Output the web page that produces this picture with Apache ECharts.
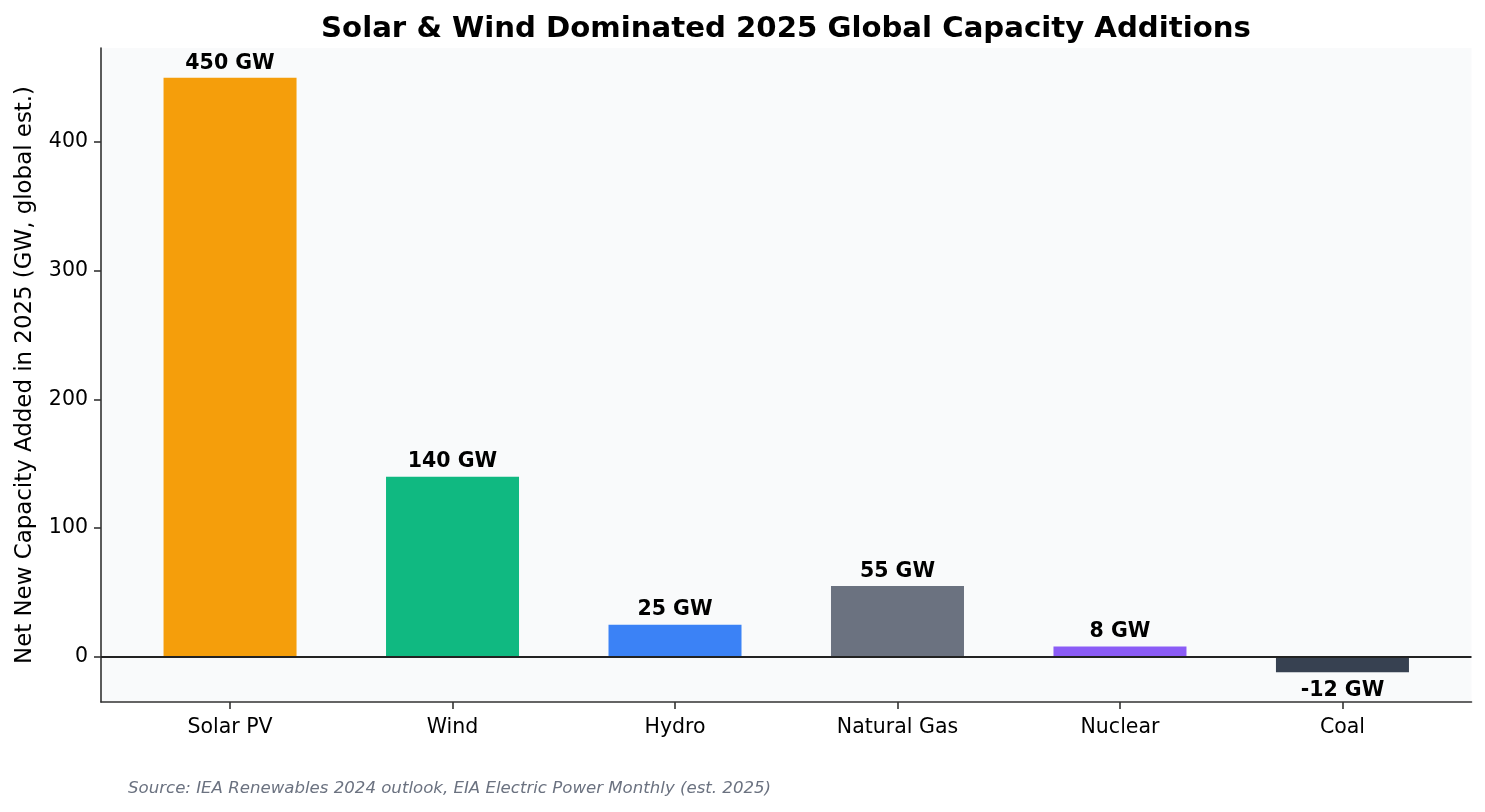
<!DOCTYPE html>
<html>
<head>
<meta charset="utf-8">
<script src="https://cdn.jsdelivr.net/npm/echarts@6/dist/echarts.min.js"></script>
<style>
  html, body { margin: 0; padding: 0; background: #ffffff; }
  #chart { width: 1485px; height: 812px; }
</style>
</head>
<body>
<div id="chart"></div>
<script>
const categories = ['Solar PV', 'Wind', 'Hydro', 'Natural Gas', 'Nuclear', 'Coal'];
const values = [450, 140, 25, 55, 8, -12];
const barColors = ['#f59e0b', '#10b981', '#3b82f6', '#6b7280', '#8b5cf6', '#374151'];
const yTicks = [0, 100, 200, 300, 400];
const titleText = 'Solar & Wind Dominated 2025 Global Capacity Additions';
const yAxisTitle = 'Net New Capacity Added in 2025 (GW, global est.)';
const sourceText = 'Source: IEA Renewables 2024 outlook, EIA Electric Power Monthly (est. 2025)';

const FONT = 'DejaVu Sans';
const xIdx = categories.map((c, i) => i);

const chart = echarts.init(document.getElementById('chart'), null, { renderer: 'canvas' });
chart.setOption({
  animation: false,
  backgroundColor: '#ffffff',
  title: {
    text: titleText,
    left: 786,
    top: 15,
    padding: 0,
    textAlign: 'center',
    textStyle: { fontFamily: FONT, fontSize: 29.2, fontWeight: 'bold', color: '#000000' }
  },
  graphic: [{
    type: 'text',
    left: 128,
    top: 780,
    style: {
      text: sourceText,
      font: 'italic 16.6px "DejaVu Sans"',
      fill: '#6b7280'
    }
  }],
  grid: {
    left: 101, right: 13.5, top: 48, bottom: 110,
    show: true, backgroundColor: '#f9fafb', borderWidth: 0
  },
  xAxis: {
    type: 'value',
    min: -0.58,
    max: 5.58,
    splitLine: { show: false },
    axisLine: { show: true, onZero: false, lineStyle: { color: '#333333', width: 1.6 } },
    axisTick: { show: true, customValues: xIdx, length: 7, lineStyle: { color: '#333333', width: 1.6 } },
    axisLabel: {
      customValues: xIdx,
      formatter: v => categories[Math.round(v)],
      margin: 15,
      fontFamily: FONT, fontSize: 20.5, color: '#000000'
    }
  },
  yAxis: {
    type: 'value',
    min: -35.1,
    max: 473.1,
    name: yAxisTitle,
    nameLocation: 'middle',
    nameRotate: 90,
    nameGap: 64,
    nameTextStyle: { fontFamily: FONT, fontSize: 22.9, color: '#000000' },
    splitLine: { show: false },
    axisLine: { show: true, onZero: false, lineStyle: { color: '#333333', width: 1.6 } },
    axisTick: { show: true, customValues: yTicks, length: 7, lineStyle: { color: '#333333', width: 1.6 } },
    axisLabel: {
      customValues: yTicks,
      margin: 13,
      fontFamily: FONT, fontSize: 20.5, color: '#000000'
    }
  },
  series: [{
    type: 'bar',
    barWidth: 133,
    data: values.map((v, i) => ({
      value: [i, v],
      itemStyle: { color: barColors[i] },
      label: { position: v < 0 ? 'bottom' : 'top', distance: v < 0 ? 8 : 4 }
    })),
    label: {
      show: true,
      formatter: p => p.value[1] + ' GW',
      fontFamily: FONT, fontSize: 20.5, fontWeight: 'bold', color: '#000000'
    },
    markLine: {
      silent: true,
      symbol: 'none',
      label: { show: false },
      lineStyle: { color: '#222222', width: 1.8, type: 'solid' },
      data: [{ yAxis: 0 }]
    }
  }]
});
</script>
</body>
</html>
